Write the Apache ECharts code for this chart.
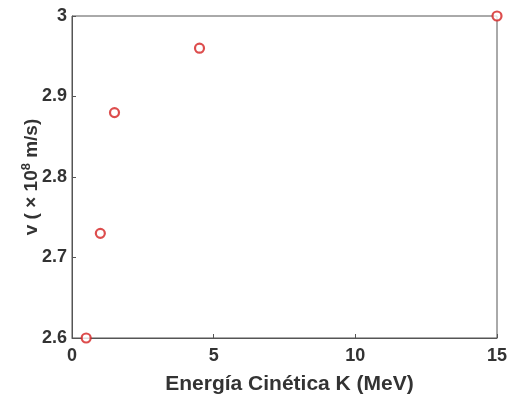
<!DOCTYPE html>
<html><head><meta charset="utf-8">
<script src="https://cdn.jsdelivr.net/npm/echarts@6/dist/echarts.min.js"></script>
<style>html,body{margin:0;padding:0;background:#fff}#c{width:507px;height:400px}</style>
</head><body><div id="c"></div>
<script>
const energyMeV = [0.5, 1, 1.5, 4.5, 15];
const speed = [2.6, 2.73, 2.88, 2.96, 3.0];
const xTicks = [0, 5, 10, 15];
const yTicks = [2.6, 2.7, 2.8, 2.9, 3];

const chart = echarts.init(document.getElementById('c'));
const font = 'Liberation Sans, Arial, sans-serif';
chart.setOption({
  animation: false,
  grid: {left: 72, right: 10, top: 16, bottom: 62, outerBoundsMode: 'none', containLabel: false,
    show: true, borderColor: '#555', borderWidth: 1, backgroundColor: '#fff'},
  xAxis: {
    type: 'value', min: 0, max: 15, interval: 5,
    name: 'Energía Cinética K (MeV)', nameLocation: 'middle', nameGap: 36, nameMoveOverlap: false,
    nameTextStyle: {fontFamily: font, fontWeight: 'bold', fontSize: 21, color: '#333', padding: [0,0,0,10]},
    axisLine: {show: true, lineStyle: {color: '#555'}},
    axisTick: {show: true, inside: true, length: 4, lineStyle: {color: '#555'}},
    axisLabel: {fontFamily: font, fontWeight: 'bold', fontSize: 18, color: '#333', margin: 9,
      formatter: v => xTicks.includes(v) ? String(v) : ''},
    splitLine: {show: false}
  },
  yAxis: {
    type: 'value', min: 2.6, max: 3, interval: 0.1,
    name: '{n|v ( × 10}{s|8}{n| m/s)}', nameLocation: 'middle', nameGap: 29, nameRotate: 90, nameMoveOverlap: false,
    nameTextStyle: {rich: {
      n: {fontFamily: font, fontWeight: 'bold', fontSize: 19, color: '#333'},
      s: {fontFamily: font, fontWeight: 'bold', fontSize: 13, color: '#333', verticalAlign: 'top', padding: [0,0,10,0]}
    }},
    axisLine: {show: true, lineStyle: {color: '#555'}},
    axisTick: {show: true, inside: true, length: 4, lineStyle: {color: '#555'}},
    axisLabel: {fontFamily: font, fontWeight: 'bold', fontSize: 18, color: '#333', margin: 5,
      formatter: v => { const t = yTicks.find(y => Math.abs(y - v) < 1e-9); return t === undefined ? '' : String(t); }},
    splitLine: {show: false}
  },
  series: [{
    type: 'scatter',
    data: energyMeV.map((x, i) => [x, speed[i]]),
    symbol: 'circle', symbolSize: 9,
    itemStyle: {color: '#fff', borderColor: '#d42020', borderWidth: 2.2},
    clip: false
  }]
});
</script></body></html>
